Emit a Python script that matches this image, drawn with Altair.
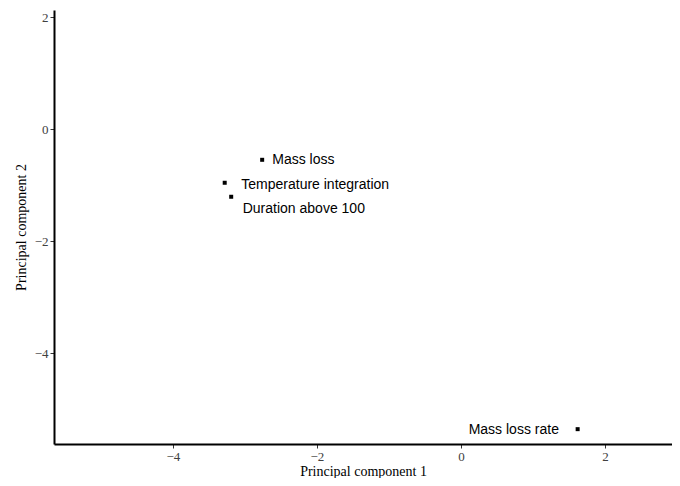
import altair as alt
import pandas as pd

variables = ["Mass loss", "Temperature integration", "Duration above 100", "Mass loss rate"]
pc1 = [-2.76, -3.28, -3.19, 1.62]
pc2 = [-0.55, -0.96, -1.21, -5.36]
label_x = [-2.62, -3.05, -3.03, 1.36]
label_y = [-0.55, -1.0, -1.42, -5.37]
label_align = ["left", "left", "left", "right"]

x_ticks = [-4, -2, 0, 2]
y_ticks = [2, 0, -2, -4]
x_domain = [-5.65, 2.93]
y_domain = [-5.625, 2.125]

df = pd.DataFrame({"var": variables, "pc1": pc1, "pc2": pc2,
                   "lx": label_x, "ly": label_y, "align": label_align})

xs = alt.Scale(domain=x_domain, nice=False, zero=False)
ys = alt.Scale(domain=y_domain, nice=False, zero=False)

axis_common = dict(grid=False, domainColor="black", domainWidth=2, format="d",
                   tickColor="#333333", tickSize=4, tickWidth=1,
                   labelFont="Liberation Serif", labelFontSize=13, labelColor="#404040",
                   titleFont="Liberation Serif", titleFontSize=14, titleFontWeight="normal",
                   titleColor="black")

points = alt.Chart(df).mark_square(size=16, color="black", opacity=1).encode(
    x=alt.X("pc1:Q", scale=xs, title="Principal component 1",
            axis=alt.Axis(values=x_ticks, titleBaseline="alphabetic", titleY=31, **axis_common)),
    y=alt.Y("pc2:Q", scale=ys, title="Principal component 2",
            axis=alt.Axis(values=y_ticks, titlePadding=6, **axis_common)),
)

left_labels = alt.Chart(df).transform_filter(alt.datum.align == "left").mark_text(
    align="left", baseline="middle", font="Liberation Sans", fontSize=14, color="black"
).encode(x=alt.X("lx:Q", scale=xs), y=alt.Y("ly:Q", scale=ys), text="var:N")

right_labels = alt.Chart(df).transform_filter(alt.datum.align == "right").mark_text(
    align="right", baseline="middle", font="Liberation Sans", fontSize=14, color="black"
).encode(x=alt.X("lx:Q", scale=xs), y=alt.Y("ly:Q", scale=ys), text="var:N")

chart = alt.layer(points, left_labels, right_labels).properties(
    width=618, height=434,
    background="white",
    autosize=alt.AutoSizeParams(type="none"),
    padding={"left": 46, "top": 2, "right": 0, "bottom": 34},
).configure_view(stroke="transparent", strokeWidth=0).configure_axis(grid=False)

chart.save("out.html", embed_options={"renderer": "svg", "actions": False})
